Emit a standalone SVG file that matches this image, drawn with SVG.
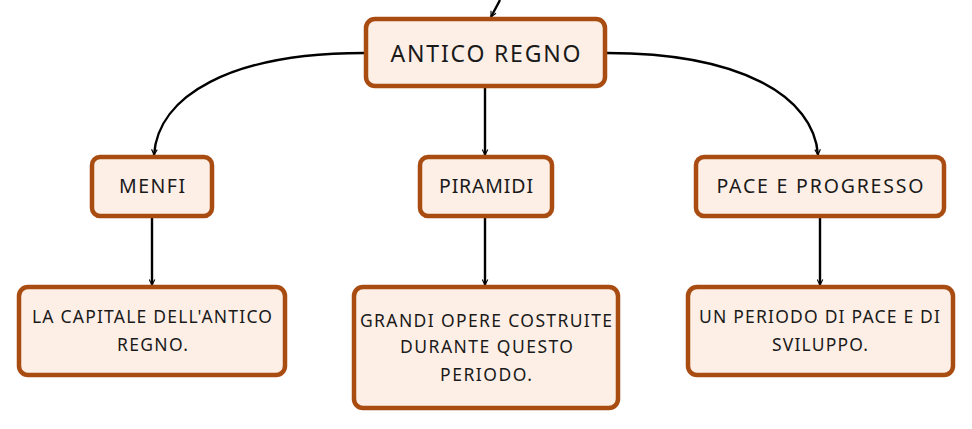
<svg xmlns="http://www.w3.org/2000/svg" width="972" height="429" viewBox="0 0 972 429">
<style>
.box{fill:#fdefe6;stroke:#a94c12;stroke-width:4.5}
.t{font-family:"Noto Sans","Open Sans",sans-serif;fill:#1a1a1a;text-anchor:middle}
.big{font-size:23px}
.mid{font-size:19.5px}
.sm{font-size:17.5px}
.c{fill:none;stroke:#000;stroke-width:2.4;marker-end:url(#a)}
</style>
<defs>
<marker id="a" viewBox="0 0 10 10" refX="9" refY="5" markerWidth="7" markerHeight="7" markerUnits="userSpaceOnUse" orient="auto">
<path d="M1,1 L9,5 L1,9" fill="none" stroke="#000" stroke-width="1.6"/>
</marker>
</defs>
<g id="connectors">
<path class="c" d="M500,0 C497,6 494,11 491,17"/>
<path class="c" d="M364,53 C230,53 158,96 154,155"/>
<path class="c" d="M607,53 C740,53 814,96 818,155"/>
<path class="c" d="M485,88 L485,155"/>
<path class="c" d="M152,218 L152,285"/>
<path class="c" d="M485,218 L485,285"/>
<path class="c" d="M820,218 L820,285"/>
</g>
<g id="antico-regno">
<rect class="box" x="366" y="19" width="239" height="67" rx="9"/>
<text class="t big" x="485.5" y="62" textLength="190">ANTICO REGNO</text>
</g>
<g id="menfi">
<rect class="box" x="92" y="157" width="120" height="59" rx="8"/>
<text class="t mid" x="152" y="193" textLength="66">MENFI</text>
</g>
<g id="piramidi">
<rect class="box" x="420" y="157" width="132" height="59" rx="8"/>
<text class="t mid" x="486" y="193" textLength="94">PIRAMIDI</text>
</g>
<g id="pace-progresso">
<rect class="box" x="696" y="157" width="248" height="59" rx="8"/>
<text class="t mid" x="820" y="193" textLength="207">PACE E PROGRESSO</text>
</g>
<g id="capitale">
<rect class="box" x="19" y="287" width="266" height="88" rx="9"/>
<text class="t sm" x="152" y="323" textLength="240">LA CAPITALE DELL'ANTICO</text>
<text class="t sm" x="152.5" y="351" textLength="71">REGNO.</text>
</g>
<g id="grandi-opere">
<rect class="box" x="354" y="287" width="264" height="121" rx="9"/>
<text class="t sm" x="486" y="327" textLength="252">GRANDI OPERE COSTRUITE</text>
<text class="t sm" x="486.5" y="353" textLength="173">DURANTE QUESTO</text>
<text class="t sm" x="486" y="381" textLength="92">PERIODO.</text>
</g>
<g id="periodo-pace">
<rect class="box" x="688" y="287" width="265" height="88" rx="9"/>
<text class="t sm" x="819.5" y="323" textLength="241">UN PERIODO DI PACE E DI</text>
<text class="t sm" x="820" y="351" textLength="96">SVILUPPO.</text>
</g>
</svg>
